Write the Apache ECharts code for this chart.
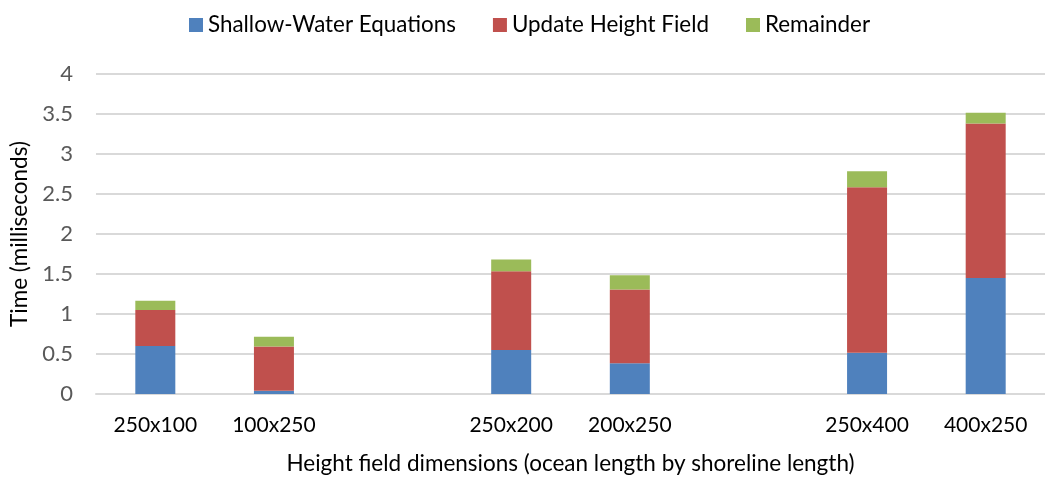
<!DOCTYPE html>
<html>
<head>
<meta charset="utf-8">
<script src="https://cdn.jsdelivr.net/npm/echarts@6/dist/echarts.min.js"></script>
<style>html,body{margin:0;padding:0;background:#fff;}#c{width:1045px;height:480px;}</style>
</head>
<body>
<div id="c"></div>
<script>
const categories = ['250x100', '100x250', '', '250x200', '200x250', '', '250x400', '400x250'];
const shallowWater = [0.60, 0.04, null, 0.55, 0.385, null, 0.515, 1.45];
const updateHeight = [0.45, 0.555, null, 0.985, 0.92, null, 2.07, 1.93];
const remainder = [0.115, 0.12, null, 0.145, 0.18, null, 0.20, 0.135];
const seriesNames = ['Shallow-Water Equations', 'Update Height Field', 'Remainder'];
const colors = ['#4F81BD', '#C0504D', '#9BBB59'];

const FONT = 'Lato';
const chart = echarts.init(document.getElementById('c'), null, {renderer: 'canvas'});
const mk = (name, data, color) => ({
  name, type: 'bar', stack: 'total', data, barWidth: 40,
  itemStyle: {color}, emphasis: {disabled: true}
});
chart.setOption({
  animation: false,
  color: colors,
  textStyle: {fontFamily: FONT},
  legend: {
    top: 9, left: 184, itemWidth: 14, itemHeight: 14, itemGap: 37,
    icon: 'rect',
    textStyle: {fontFamily: FONT, fontSize: 22.4, color: '#000'},
    data: seriesNames
  },
  grid: {left: 96, top: 74, width: 957, height: 323, containLabel: false},
  xAxis: {
    type: 'category', data: categories,
    axisLine: {show: true, lineStyle: {color: '#D9D9D9', width: 2}},
    axisTick: {show: false},
    axisLabel: {fontFamily: FONT, fontSize: 21, color: '#000', margin: 21, interval: 0},
    name: 'Height field dimensions (ocean length by shoreline length)',
    nameLocation: 'middle', nameGap: 58,
    nameTextStyle: {fontFamily: FONT, fontSize: 22.5, color: '#000'}
  },
  yAxis: {
    type: 'value', min: 0, max: 4, interval: 0.5,
    axisLine: {show: false}, axisTick: {show: false},
    splitLine: {lineStyle: {color: '#D9D9D9', width: 2}},
    axisLabel: {fontFamily: FONT, fontSize: 22, color: '#595959', margin: 23},
    name: 'Time (milliseconds)', nameLocation: 'middle', nameGap: 60, nameRotate: 90,
    nameTextStyle: {fontFamily: FONT, fontSize: 22.5, color: '#000'}
  },
  series: [
    mk(seriesNames[0], shallowWater, colors[0]),
    mk(seriesNames[1], updateHeight, colors[1]),
    mk(seriesNames[2], remainder, colors[2])
  ]
});
</script>
</body>
</html>
